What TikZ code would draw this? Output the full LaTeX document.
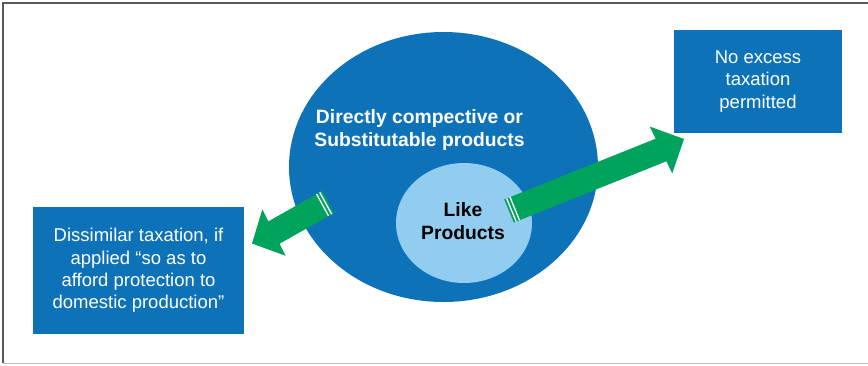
\documentclass[tikz,border=0pt]{standalone}
\usepackage{fontspec}
\setmainfont{Liberation Sans}
\usetikzlibrary{shapes.geometric,calc}
\definecolor{dblue}{RGB}{14,114,185}
\definecolor{lblue}{RGB}{146,205,240}
\definecolor{agreen}{RGB}{0,163,92}
\tikzset{
  box/.style={rectangle, fill=dblue, text=white, inner sep=0pt, align=center,
    font=\fontsize{18.5pt}{22.3pt}\selectfont},
  oval/.style={ellipse, inner sep=0pt},
  boldtxt/.style={align=center, inner sep=0pt, font=\fontsize{19.3pt}{23pt}\selectfont\bfseries}
}
\newcommand\garrow[3]{%
  \fill[agreen] ($(#1)!12.5pt!90:(#3)$) -- ($(#2)!12.5pt!90:(#3)$) -- ($(#2)!26pt!90:(#3)$) -- (#3)
    -- ($(#2)!26pt!-90:(#3)$) -- ($(#2)!12.5pt!-90:(#3)$) -- ($(#1)!12.5pt!-90:(#3)$) -- cycle;
  \foreach \d in {2.6pt,6.2pt}{%
    \coordinate (s) at ($(#1)!\d!(#3)$);
    \draw[white, line width=1.3pt] ($(s)!12.5pt!90:(#3)$) -- ($(s)!12.5pt!-90:(#3)$);
  }%
}
\begin{document}
\begin{tikzpicture}[x=1pt,y=-1pt]
\useasboundingbox (0,0) rectangle (868,365);
\draw[black!65, line width=1.3pt] (868,3) -- (3,3) -- (3,363);
\draw[black!25, line width=1pt] (3,363) -- (868,363);

\node[oval, fill=dblue, minimum width=309pt, minimum height=270pt] (big) at (443.5,167) {};
\node[oval, fill=lblue, minimum width=136pt, minimum height=120pt] (like) at (464,223) {};
\node[boldtxt, text=white] (bigtxt) at (419.5,130.5) {Directly compective or\\Substitutable products};
\node[boldtxt, text=black] (liketxt) at (463,221.5) {Like\\Products};

\node[box, minimum width=211pt, minimum height=127pt] (left) at (138.5,270.5)
  {Dissimilar taxation, if\\applied “so as to\\afford protection to\\domestic production”};
\node[box, minimum width=168pt, minimum height=103pt] (right) at (758,81.5)
  {No excess\\taxation\\permitted};

\coordinate (lt) at (328,202);
\coordinate (lb) at (274,232.5);
\coordinate (lp) at (252,243.5);
\coordinate (rt) at (509,211);
\coordinate (rb) at (661,150);
\coordinate (rp) at (684,139);
\garrow{lt}{lb}{lp}
\garrow{rt}{rb}{rp}
\end{tikzpicture}
\end{document}
